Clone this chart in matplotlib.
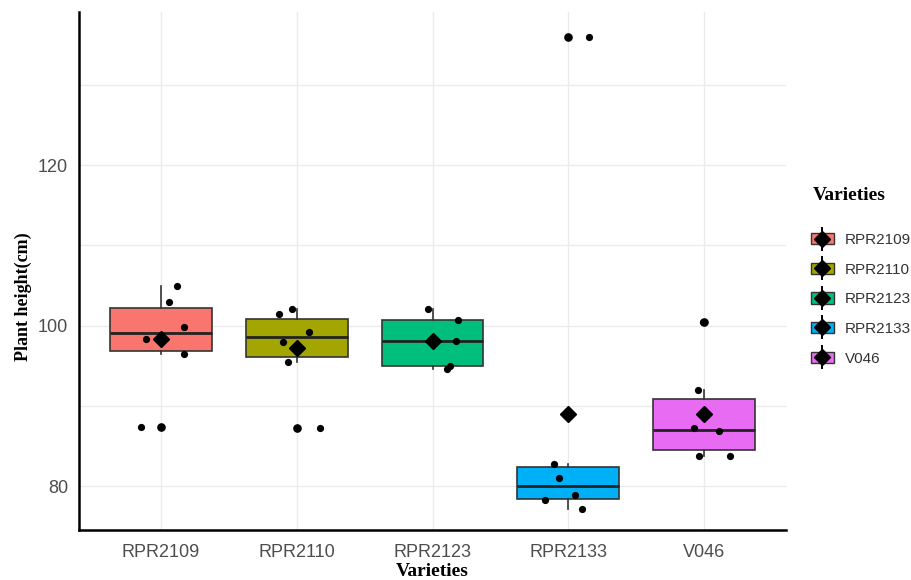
import matplotlib
matplotlib.use("Agg")
import matplotlib.pyplot as plt
import numpy as np
from matplotlib.patches import Patch
from matplotlib.lines import Line2D
from matplotlib.legend_handler import HandlerTuple

varieties = ["RPR2109", "RPR2110", "RPR2123", "RPR2133", "V046"]
colors = ["#F8766D", "#A3A500", "#00BF7D", "#00B0F6", "#E76BF3"]

h_rpr2109 = [104.9, 102.95, 99.8, 98.3, 96.4, 87.4]
h_rpr2110 = [101.4, 102.0, 99.2, 97.9, 95.5, 87.2]
h_rpr2123 = [102.0, 100.75, 98.1, 94.9, 94.6]
h_rpr2133 = [82.8, 81.0, 78.9, 78.25, 77.1, 135.9]
h_v046 = [100.4, 92.0, 87.2, 86.85, 83.7, 83.7]
heights = [h_rpr2109, h_rpr2110, h_rpr2123, h_rpr2133, h_v046]

# horizontal jitter offsets (category units) of the plotted points
j_rpr2109 = [0.12, 0.06, 0.17, -0.11, 0.17, -0.145]
j_rpr2110 = [-0.13, -0.035, 0.09, -0.10, -0.06, 0.175]
j_rpr2123 = [-0.035, 0.19, 0.17, 0.13, 0.11]
j_rpr2133 = [-0.105, -0.07, 0.045, -0.175, 0.10, 0.15]
j_v046 = [-0.01, -0.05, -0.08, 0.11, -0.04, 0.19]
jitters = [j_rpr2109, j_rpr2110, j_rpr2123, j_rpr2133, j_v046]

sans = ["Liberation Sans", "DejaVu Sans"]
serif = ["Liberation Serif", "DejaVu Serif"]

fig = plt.figure(figsize=(9.12, 5.8), dpi=100)
ax = fig.add_axes([79/912, 1-530/580, (786-79)/912, (530-12)/580])

pos = np.arange(1, len(varieties)+1)
bp = ax.boxplot(heights, positions=pos, widths=0.75, patch_artist=True,
                whis=1.5, showcaps=False, zorder=2,
                boxprops=dict(edgecolor="#333333", linewidth=1.2),
                medianprops=dict(color="#222222", linewidth=2.0),
                whiskerprops=dict(color="#333333", linewidth=1.2),
                flierprops=dict(marker="o", markerfacecolor="black",
                                markeredgecolor="black", markersize=5.2))
for patch, c in zip(bp["boxes"], colors):
    patch.set_facecolor(c)

for p, h, j in zip(pos, heights, jitters):
    ax.scatter(p + np.array(j), h, s=27, color="black", zorder=3, linewidths=0)
    ax.plot(p, np.mean(h), marker="D", color="black", markersize=8, zorder=4)

ax.set_xlim(0.4, 5.6)
ax.set_ylim(74.52, 139.07)
ax.set_yticks([80, 100, 120])
ax.set_yticks([90, 110, 130], minor=True)
ax.set_xticks(pos)
ax.set_xticklabels(varieties)
ax.grid(True, which="both", color="#ebebeb", linewidth=1.0, zorder=0)
ax.set_axisbelow(True)
ax.tick_params(which="both", length=0, labelsize=13, labelcolor="#4d4d4d")
ax.tick_params(axis="y", pad=8)
ax.tick_params(axis="x", pad=10)
for lab in ax.get_xticklabels() + ax.get_yticklabels():
    lab.set_family(sans)
for s in ["top", "right"]:
    ax.spines[s].set_visible(False)
for s in ["left", "bottom"]:
    ax.spines[s].set_linewidth(1.8)
    ax.spines[s].set_color("black")

ax.set_ylabel("Plant height(cm)", family=serif, fontweight="bold", fontsize=13)
ax.yaxis.set_label_coords((23-79)/707, (530-297)/518)
ax.yaxis.label.set_va("center")
ax.set_xlabel("Varieties", family=serif, fontweight="bold", fontsize=14)
ax.xaxis.set_label_coords(0.5, (530-571)/518)
ax.xaxis.label.set_va("center")

handles = []
for c in colors:
    handles.append((Patch(facecolor=c, edgecolor="#333333", linewidth=1.0),
                    Line2D([], [], marker="|", color="black", markersize=17, linestyle="None",
                           markeredgewidth=1.4),
                    Line2D([], [], marker="D", color="black", markersize=8, linestyle="None")))
leg = fig.legend(handles, varieties, loc="upper left", bbox_to_anchor=(811/912, 1-233/580),
                 frameon=False, handler_map={tuple: HandlerTuple(ndivide=1, pad=0)},
                 handlelength=1.5, handleheight=0.78, labelspacing=1.02, borderpad=0,
                 borderaxespad=0, handletextpad=0.72,
                 prop={"family": sans, "size": 11})
for t in leg.get_texts():
    t.set_color("#333333")
fig.text(813/912, 1-195/580, "Varieties", family=serif, fontweight="bold", fontsize=14,
         ha="left", va="center")

fig.savefig("out.png", dpi=100)
